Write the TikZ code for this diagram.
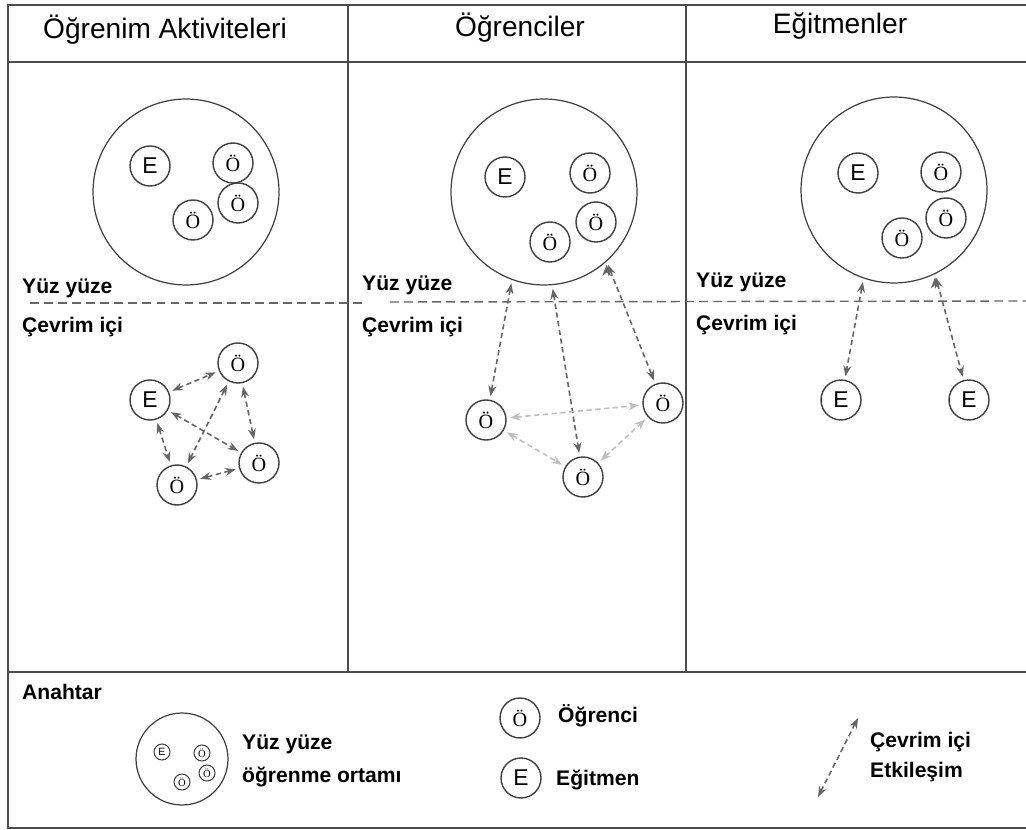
\documentclass[tikz,border=0pt]{standalone}
\usepackage{fontspec}
\setmainfont{Liberation Sans}
\newfontfamily\oefont{Liberation Serif}
\usetikzlibrary{arrows.meta,positioning}

\begin{document}
\begin{tikzpicture}[x=0.02cm, y=-0.02cm,
  kisi/.style={draw, circle, minimum size=0.8cm, inner sep=0pt, line width=0.8pt, draw=black!75},
  ogr/.style={kisi, font=\oefont\fontsize{11.5}{11.5}\selectfont},
  egt/.style={kisi, font=\fontsize{13}{13}\selectfont},
  ortam/.style={draw, circle, minimum size=3.72cm, inner sep=0pt, line width=0.7pt, draw=black!75},
  etk/.style={dashed, dash pattern=on 3pt off 2pt, line width=0.9pt, draw=black!60, shorten >=2pt, shorten <=2pt,
    {Stealth[length=6pt,width=4.5pt]}-{Stealth[length=6pt,width=4.5pt]}},
  soluk/.style={etk, draw=black!25},
  mini/.style={kisi, minimum size=0.32cm, line width=0.6pt},
  baslik/.style={font=\fontsize{16}{16}\selectfont},
  etiket/.style={anchor=west, font=\bfseries\fontsize{12}{17}\selectfont, align=left},
  cizgi/.style={draw=black!70, line width=0.7pt}]
  \useasboundingbox (0,0) rectangle (1026,830);

  % Frame and columns
  \draw[cizgi] (1026,5) -- (8,5) -- (8,828) -- (1026,828);
  \draw[cizgi, line width=1.3pt] (8,62) -- (1026,62);
  \draw[cizgi] (8,672) -- (1026,672);
  \draw[cizgi] (348,5) -- (348,672);
  \draw[cizgi] (686,5) -- (686,672);
  \draw[draw=black!60, line width=0.8pt, dash pattern=on 5pt off 3pt] (30,303) -- (362,303);
  \draw[draw=black!60, line width=0.8pt, dash pattern=on 5pt off 3pt] (390,302) -- (1026,301);

  % Headers
  \node[baslik] (h1) at (165,30) {Öğrenim Aktiviteleri};
  \node[baslik] (h2) at (520,28) {Öğrenciler};
  \node[baslik] (h3) at (840,26) {Eğitmenler};

  % Labels
  \node[etiket] (y1) at (16,288) {Yüz yüze};
  \node[etiket] (c1) at (16,327) {Çevrim içi};
  \node[etiket] (y2) at (356,285) {Yüz yüze};
  \node[etiket] (c2) at (356,327) {Çevrim içi};
  \node[etiket] (y3) at (690,282) {Yüz yüze};
  \node[etiket] (c3) at (690,325) {Çevrim içi};

  % Face to face: Öğrenim Aktiviteleri
  \node[ortam] (f1) at (186,192) {};
  \node[egt] (f1e) at (150,166) {E};
  \node[ogr] (f1a) at (233,163) {Ö};
  \node[ogr] (f1b) at (238,203) {Ö};
  \node[ogr] (f1c) at (193,220) {Ö};

  % Face to face: Öğrenciler
  \node[ortam] (f2) at (544,192) {};
  \node[egt] (f2e) at (505,177) {E};
  \node[ogr] (f2a) at (590,173) {Ö};
  \node[ogr] (f2b) at (596,222) {Ö};
  \node[ogr] (f2c) at (550,242) {Ö};

  % Face to face: Eğitmenler
  \node[ortam] (f3) at (894,190) {};
  \node[egt] (f3e) at (858,173) {E};
  \node[ogr] (f3a) at (941,172) {Ö};
  \node[ogr] (f3b) at (946,218) {Ö};
  \node[ogr] (f3c) at (902,238) {Ö};

  % Online: Öğrenim Aktiviteleri
  \node[egt] (o1e) at (150,400) {E};
  \node[ogr] (o1a) at (238,363) {Ö};
  \node[ogr] (o1b) at (259,463) {Ö};
  \node[ogr] (o1c) at (177,485) {Ö};
  \path[etk]
    (o1e) edge (o1a)
    (o1e) edge (o1b)
    (o1e) edge (o1c)
    (o1a) edge (o1c)
    (o1a) edge (o1b)
    (o1b) edge (o1c);

  % Online: Öğrenciler
  \node[ogr] (o2a) at (486,420) {Ö};
  \node[ogr] (o2b) at (663,403) {Ö};
  \node[ogr] (o2c) at (583,477) {Ö};
  \path[etk]
    (f2.250) edge (o2a)
    (f2.275) edge (o2c)
    (f2.312) edge (o2b);
  \path[soluk]
    (o2a) edge (o2b)
    (o2a) edge (o2c)
    (o2c) edge (o2b);

  % Online: Eğitmenler
  \node[egt] (o3a) at (841,400) {E};
  \node[egt] (o3b) at (969,400) {E};
  \path[etk]
    (f3.251) edge (o3a)
    (f3.296) edge (o3b);

  % Key
  \node[etiket] (anahtar) at (16,692) {Anahtar};
  \node[draw, circle, minimum size=1.84cm, line width=0.7pt, draw=black!75] (k1) at (182,759) {};
  \node[mini, font=\fontsize{6}{6}\selectfont] (k1e) at (162,752) {E};
  \node[mini, font=\oefont\fontsize{6}{6}\selectfont] (k1a) at (202,753) {Ö};
  \node[mini, font=\oefont\fontsize{6}{6}\selectfont] (k1b) at (207,773) {Ö};
  \node[mini, font=\oefont\fontsize{6}{6}\selectfont] (k1c) at (182,782) {Ö};
  \node[etiket, font=\bfseries\fontsize{12}{19}\selectfont] (k1t) at (236,761) {Yüz yüze\\öğrenme ortamı};

  \node[ogr] (k2) at (520,718) {Ö};
  \node[etiket] (k2t) at (552,716) {Öğrenci};
  \node[egt] (k3) at (521,778) {E};
  \node[etiket] (k3t) at (550,780) {Eğitmen};

  \coordinate (k4a) at (858,718);
  \coordinate (k4b) at (818,797);
  \draw[etk, shorten >=0pt, shorten <=0pt] (k4a) -- (k4b);
  \node[etiket] (k4t) at (864,757) {Çevrim içi\\Etkileşim};
\end{tikzpicture}
\end{document}
